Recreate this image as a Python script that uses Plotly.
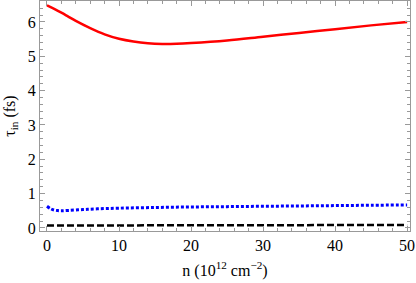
import plotly.graph_objects as go

n_red = [0, 1, 2, 3, 4, 6, 8, 10, 12, 14, 16, 18, 20, 25, 30, 35, 40, 45, 50]
tau_red = [6.48, 6.38, 6.27, 6.15, 6.03, 5.82, 5.64, 5.51, 5.43, 5.38, 5.36, 5.365, 5.385, 5.46, 5.57, 5.68, 5.79, 5.90, 6.0]

n_blue = [0, 0.5, 1, 1.5, 2, 3, 5, 7, 10, 15, 20, 25, 30, 35, 40, 45, 50]
tau_blue = [0.63, 0.56, 0.52, 0.505, 0.5, 0.51, 0.535, 0.555, 0.575, 0.595, 0.61, 0.62, 0.63, 0.64, 0.65, 0.66, 0.67]

n_black = [0, 10, 20, 30, 40, 50]
tau_black = [0.07, 0.075, 0.078, 0.08, 0.082, 0.085]

x_ticks = [0, 10, 20, 30, 40, 50]
y_ticks = [0, 1, 2, 3, 4, 5, 6]

FONT = "Liberation Serif"

fig = go.Figure()
fig.add_trace(go.Scatter(x=n_red, y=tau_red, mode="lines", line=dict(color="#ff0000", width=2.5, shape="spline")))
fig.add_trace(go.Scatter(x=n_blue, y=tau_blue, mode="lines", line=dict(color="#0000ff", width=3, dash="3px,2px", shape="spline")))
fig.add_trace(go.Scatter(x=n_black, y=tau_black, mode="lines", line=dict(color="#000000", width=2.5, dash="7px,3px")))

fig.update_layout(
    width=416, height=283, margin=dict(l=40, r=6, t=1, b=52, autoexpand=False),
    plot_bgcolor="white", paper_bgcolor="white", showlegend=False,
    font=dict(family=FONT, color="black", size=16),
)
for ax, rng, tv, mdt, title, so in [
    (fig.update_xaxes, [-0.97, 50.4], x_ticks, 2, "n (10<sup>12</sup> cm<sup>−2</sup>)", 11),
    (fig.update_yaxes, [-0.09, 6.61], y_ticks, 0.2, "τ<sub>in</sub> (fs)", 8),
]:
    ax(range=rng, tickvals=tv, showgrid=False, zeroline=False, showline=True,
       linecolor="#999999", linewidth=1, mirror="allticks", ticks="inside",
       tickcolor="#999999", ticklen=5, tickwidth=1, tickfont_size=16,
       minor_dtick=mdt, minor_ticks="inside", minor_ticklen=3, minor_tickcolor="#999999",
       title_text=title, title_standoff=so, title_font_size=16)
fig.write_html("out.html", config={"displayModeBar": False},
               post_script="document.body.style.margin='0';document.body.style.padding='0';")
